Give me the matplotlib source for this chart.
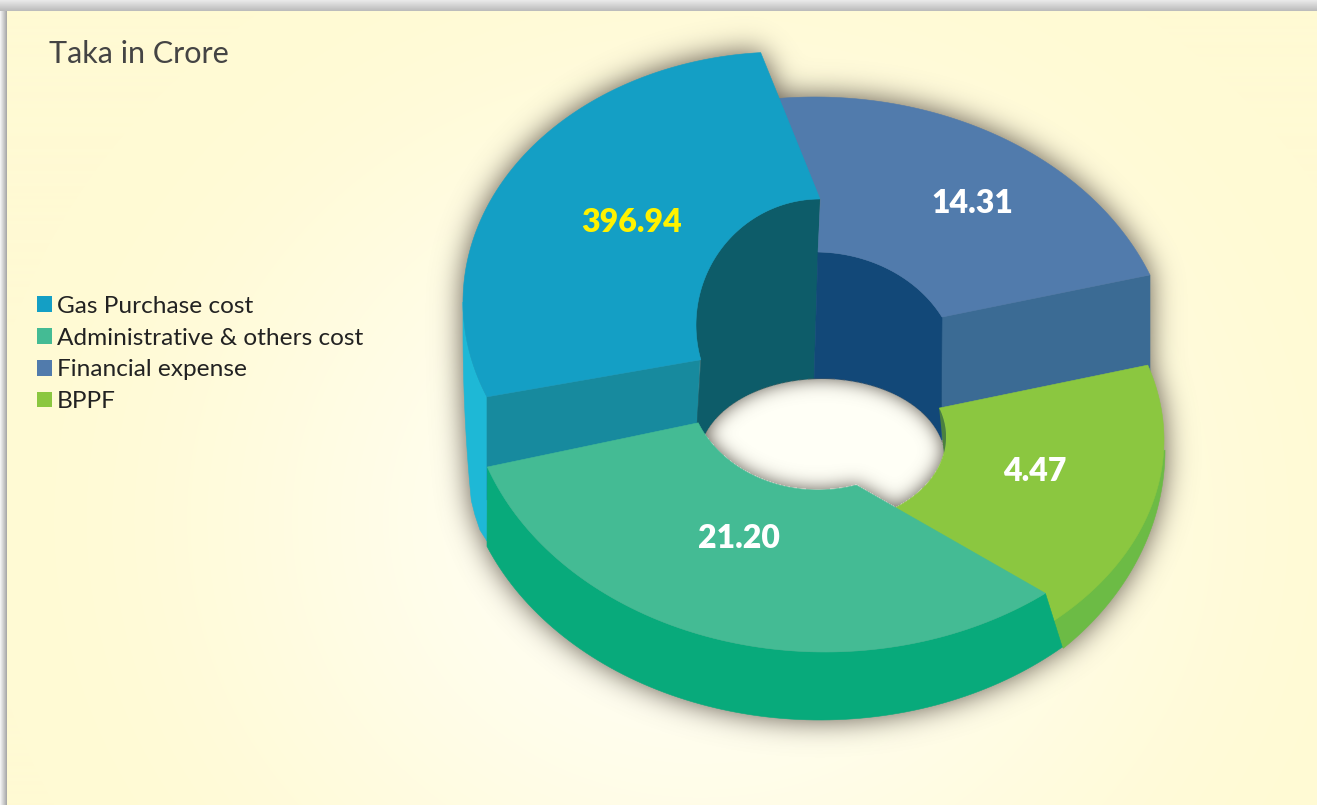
import numpy as np
import matplotlib
matplotlib.use("Agg")
import matplotlib.pyplot as plt
from matplotlib.patches import Patch, Polygon
from matplotlib.path import Path

W, H = 1317, 805

# datos
categories = ["Gas Purchase cost", "Administrative & others cost", "Financial expense", "BPPF"]
values = [396.94, 21.20, 14.31, 4.47]
top_colors = ["#149FC5", "#44BB94", "#517BAC", "#8BC740"]
label_colors = ["#FFF200", "white", "white", "white"]
label_x = [632, 739, 972, 1035]
label_y = [222, 538, 203, 471]

# elipses de cada porcion: (cx, cy, a, b) y angulos (grados, y hacia abajo)
gas_outer = (783, 302, 320, 250)
gas_inner = (820, 325, 124, 126)
adm_outer = (825, 375, 358, 277)
adm_inner = (818, 380, 130, 110)
adm_base = (820, 440, 360, 280)
fin_outer = (815, 375, 359, 278)
fin_inner = (815, 375, 144, 123)
bppf_outer = (825, 440, 339, 245)
bppf_inner = (825, 437, 121, 87)
bppf_base = (825, 450, 340, 278)
gas_side = (825, 330, 362, 800)
hole = (822, 460, 123, 81)


def arc(e, t0, t1, n=90):
    t = np.radians(np.linspace(t0, t1, n))
    return np.column_stack([e[0] + e[2] * np.cos(t), e[1] + e[3] * np.sin(t)])


def blur(mask, sigma):
    fy = np.fft.fftfreq(mask.shape[0])[:, None]
    fx = np.fft.rfftfreq(mask.shape[1])[None, :]
    g = np.exp(-2 * (np.pi * sigma) ** 2 * (fx ** 2 + fy ** 2))
    return np.fft.irfft2(np.fft.rfft2(mask) * g, s=mask.shape)


def mascara(polys):
    yy, xx = np.mgrid[0:H, 0:W]
    pts = np.column_stack([xx.ravel() + .5, yy.ravel() + .5])
    out = np.zeros(W * H, dtype=bool)
    for p in polys:
        out |= Path(p).contains_points(pts)
    return out.reshape(H, W)


def fondo():
    yy, xx = np.mgrid[0:H, 0:W]
    r = np.clip(np.hypot((xx - 700) / 720, (yy - 520) / 640), 0, 1)
    r = r * r * (3 - 2 * r)
    c0 = np.array([255, 255, 246]) / 255
    c1 = np.array([255, 250, 212]) / 255
    img = c0 + (c1 - c0) * r[..., None]
    # marco gris arriba y a la izquierda
    gris = np.array([.62, .62, .62])
    img[yy < 12] = (np.array([.93, .93, .93]) + (np.array([.72, .72, .72]) - .93) * (yy / 12)[..., None])[yy < 12]
    img[(xx < 7) & (yy >= 12)] = (np.array([.95, .95, .95]) + (gris - .95) * (xx / 7)[..., None])[(xx < 7) & (yy >= 12)]
    return img


# poligonos
gas_top = np.vstack([arc(gas_outer, 157.7, 266), arc(gas_inner, 270, 164)])
fin_top = np.vstack([arc(fin_outer, 263, 338.9), arc(fin_inner, 331.9, 271.2), [[820.5, 199]]])
bppf_top = np.vstack([arc(bppf_outer, 342.2, 412), arc(bppf_inner, 54.7, -19.4)])
adm_top = np.vstack([arc(adm_outer, 52, 160.6), arc(adm_inner, 157.1, 72.9)])
adm_wall = np.vstack([arc(adm_outer, 52, 160.6), [[487, 546]], arc(adm_base, 157.7, 47.7)])
bppf_wall = np.vstack([arc(bppf_base, 0, 45.5), [[1000, 560]]])
gas_cyan = np.vstack([arc(gas_outer, 157.7, 180), arc(gas_side, 180, 167.7), [[475, 515], [480, 530], [487, 541]]])
gas_front = np.array([[487, 397], [700, 360], [697, 425], [697, 470], [487, 500]])
gas_in_wall = np.vstack([arc(gas_inner, 164, 270), [[814, 380], [814, 470], [697, 470], [697, 425]]])
fin_wall = np.array([[942, 317], [1150, 275], [1150, 400], [941, 440]])
fin_in_wall = np.vstack([arc(fin_inner, 271.2, 331.9), [[941, 470], [814, 470], [814, 380]]])
sliver = arc(bppf_inner, -19.4, 10.6, 30)
hole_poly = arc(hole, 0, 360, 180)

fig = plt.figure(figsize=(W / 100, H / 100), dpi=100)
ax = fig.add_axes([0, 0, 1, 1])
ax.imshow(fondo(), extent=(0, W, H, 0), aspect="auto", zorder=0)

# sombra exterior
silueta = mascara([gas_top, gas_cyan, gas_front, fin_top, fin_wall, bppf_top, bppf_wall, adm_wall, adm_top,
                   np.vstack([arc(gas_inner, 164, 270), fin_top[:1]]), hole_poly])
sombra = blur(silueta.astype(float), 14)
rgba = np.zeros((H, W, 4))
rgba[..., :3] = np.array([110, 102, 90]) / 255
rgba[..., 3] = np.clip(sombra * 1.1, 0, .8)
ax.imshow(rgba, extent=(0, W, H, 0), aspect="auto", zorder=1)

for pts, color, z in [(gas_cyan, "#1EB8D6", 2), (gas_front, "#178A9E", 3), (gas_in_wall, "#0D5C69", 4),
                      (fin_wall, "#3B6B94", 3), (fin_in_wall, "#124878", 5)]:
    ax.add_patch(Polygon(pts, closed=True, fc=color, ec=color, lw=.4, zorder=z))

# hueco central con su sombra interior
hole_patch = Polygon(hole_poly, closed=True, fc="#FFFFF6", ec="none", zorder=6)
ax.add_patch(hole_patch)
visible = mascara([hole_poly]) & ~mascara([adm_top, bppf_top])
sombra_hueco = blur((~visible).astype(float), 9)
rgba2 = np.zeros((H, W, 4))
rgba2[..., :3] = np.array([100, 94, 86]) / 255
rgba2[..., 3] = np.clip(sombra_hueco * 1.05, 0, .8) * visible
ax.imshow(rgba2, extent=(0, W, H, 0), aspect="auto", zorder=6.5)

for pts, color, z in [(bppf_wall, "#6CBB45", 7), (bppf_top, top_colors[3], 8),
                      (fin_top, top_colors[2], 8), (gas_top, top_colors[0], 9),
                      (adm_wall, "#08AA7B", 10), (adm_top, top_colors[1], 11)]:
    ax.add_patch(Polygon(pts, closed=True, fc=color, ec=color, lw=.4, zorder=z))
ax.add_patch(Polygon(sliver, closed=True, fc="#4A8040", ec="none", zorder=8.5))

for v, x, y, c in zip(values, label_x, label_y, label_colors):
    ax.text(x, y, "%.2f" % v, color=c, fontsize=23, fontweight="heavy", family="Lato",
            ha="center", va="center", zorder=12)

ax.text(49, 54, "Taka in Crore", color="#444444", fontsize=22, family="Lato",
        ha="left", va="center", zorder=12)

handles = [Patch(fc=c, ec="none") for c in top_colors]
ax.legend(handles, categories, loc="upper left", bbox_to_anchor=(27 / W, 1 - 286 / H),
          bbox_transform=ax.transAxes, frameon=False, prop={"family": "Lato", "size": 17.6},
          handlelength=.62, handleheight=.62, handletextpad=.2, labelspacing=.44,
          labelcolor="#222222", borderpad=.4, borderaxespad=0)

ax.set_xlim(0, W)
ax.set_ylim(H, 0)
ax.axis("off")
fig.savefig("out.png", dpi=100)
